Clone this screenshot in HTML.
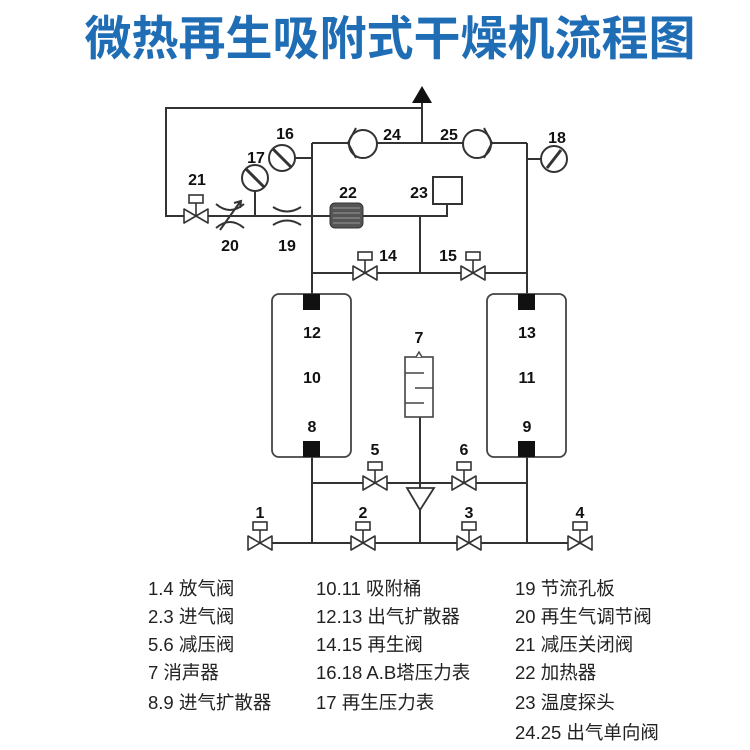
<!DOCTYPE html>
<html><head><meta charset="utf-8"><style>
body{margin:0;background:#fff}
svg{display:block}
.t{font-family:"Liberation Sans","Noto Sans CJK SC",sans-serif}
</style></head><body>
<svg width="750" height="750" viewBox="0 0 750 750" xmlns="http://www.w3.org/2000/svg">
<defs>
<g id="v"><path d="M-12,-7 L12,7 L12,-7 L-12,7 Z" fill="#fff" stroke="#333" stroke-width="1.6" stroke-linejoin="round"/><line x1="0" y1="0" x2="0" y2="-13" stroke="#333" stroke-width="1.6"/><rect x="-7" y="-21" width="14" height="8" fill="#fff" stroke="#333" stroke-width="1.6"/></g>
<g id="g"><circle r="13" fill="#fff" stroke="#333" stroke-width="2"/></g>
</defs>
<text x="390" y="55" text-anchor="middle" class="t" font-size="47" font-weight="bold" fill="#1f6db5">微热再生吸附式干燥机流程图</text>
<g stroke="#333" stroke-width="2" fill="none">
<polyline points="422,100 422,108 166,108 166,216 447,216 447,204"/>
<line x1="422" y1="100" x2="422" y2="143"/>
<line x1="312" y1="143" x2="527" y2="143"/>
<line x1="312" y1="143" x2="312" y2="294"/>
<line x1="527" y1="143" x2="527" y2="294"/>
<line x1="295" y1="158" x2="312" y2="158"/>
<line x1="527" y1="159" x2="541" y2="159"/>
<line x1="255" y1="191" x2="255" y2="216"/>
<line x1="420" y1="216" x2="420" y2="273"/>
<line x1="312" y1="273" x2="527" y2="273"/>
<line x1="312" y1="457" x2="312" y2="543"/>
<line x1="527" y1="457" x2="527" y2="543"/>
<line x1="312" y1="483" x2="527" y2="483"/>
<line x1="420" y1="417" x2="420" y2="488"/>
<line x1="420" y1="510" x2="420" y2="543"/>
<line x1="272" y1="543" x2="568" y2="543"/>
</g>
<polygon points="422,86 412,103 432,103" fill="#111"/>
<g stroke="#333" stroke-width="2" fill="#fff">
<circle cx="363" cy="144" r="14"/><circle cx="477" cy="144" r="14"/>
</g>
<g stroke="#333" stroke-width="2" fill="none">
<path d="M356,128 L348,143 L356,158"/><path d="M484,128 L492,143 L484,158"/>
</g>
<use href="#g" x="282" y="158"/><line x1="273" y1="149" x2="291" y2="167" stroke="#333" stroke-width="3"/>
<use href="#g" x="255" y="178"/><line x1="246" y1="169" x2="264" y2="187" stroke="#333" stroke-width="3"/>
<use href="#g" x="554" y="159"/><line x1="547" y1="168" x2="561" y2="150" stroke="#333" stroke-width="3"/>
<use href="#v" x="196" y="216"/>
<g stroke="#333" stroke-width="2" fill="none">
<path d="M216,204 Q230,216 244,204"/><path d="M216,228 Q230,216 244,228"/>
<line x1="220" y1="230" x2="240" y2="202"/><path d="M234,203 L241,201 L240,208"/>
<path d="M273,207 Q287,216 301,207"/><path d="M273,225 Q287,216 301,225"/>
</g>
<rect x="330" y="203" width="33" height="25" rx="5" fill="#555" stroke="#333"/>
<g stroke="#999" stroke-width="1"><line x1="333" y1="208" x2="360" y2="208"/><line x1="333" y1="213" x2="360" y2="213"/><line x1="333" y1="218" x2="360" y2="218"/><line x1="333" y1="223" x2="360" y2="223"/></g>
<rect x="433" y="177" width="29" height="27" fill="#fff" stroke="#333" stroke-width="2"/>
<use href="#v" x="365" y="273"/><use href="#v" x="473" y="273"/>
<g stroke="#444" stroke-width="1.8" fill="#fff">
<rect x="272" y="294" width="79" height="163" rx="7"/>
<rect x="487" y="294" width="79" height="163" rx="7"/>
</g>
<g fill="#111">
<rect x="303" y="294" width="17" height="16"/><rect x="303" y="441" width="17" height="16"/>
<rect x="518" y="294" width="17" height="16"/><rect x="518" y="441" width="17" height="16"/>
</g>
<rect x="405" y="357" width="28" height="60" fill="#fff" stroke="#444" stroke-width="1.6"/>
<path d="M416,357 L419,352 L422,357" fill="#fff" stroke="#444" stroke-width="1.4"/>
<g stroke="#444" stroke-width="1.6"><line x1="405" y1="373" x2="424" y2="373"/><line x1="415" y1="388" x2="433" y2="388"/><line x1="405" y1="403" x2="424" y2="403"/></g>
<polygon points="407,488 434,488 420,510" fill="#fff" stroke="#333" stroke-width="1.8"/>
<use href="#v" x="375" y="483"/><use href="#v" x="464" y="483"/>
<use href="#v" x="260" y="543"/><use href="#v" x="363" y="543"/><use href="#v" x="469" y="543"/><use href="#v" x="580" y="543"/>
<g class="t" font-size="16" font-weight="bold" fill="#111" text-anchor="middle">
<text x="285" y="139">16</text><text x="256" y="163">17</text><text x="197" y="185">21</text>
<text x="348" y="198">22</text><text x="419" y="198">23</text><text x="392" y="140">24</text><text x="449" y="140">25</text>
<text x="557" y="143">18</text><text x="230" y="251">20</text><text x="287" y="251">19</text>
<text x="388" y="261">14</text><text x="448" y="261">15</text>
<text x="312" y="338">12</text><text x="312" y="383">10</text><text x="312" y="432">8</text>
<text x="527" y="338">13</text><text x="527" y="383">11</text><text x="527" y="432">9</text>
<text x="419" y="343">7</text><text x="375" y="455">5</text><text x="464" y="455">6</text>
<text x="260" y="518">1</text><text x="363" y="518">2</text><text x="469" y="518">3</text><text x="580" y="518">4</text>
</g>
<g class="t" font-size="18.5" fill="#222">
<text x="148" y="595">1.4 放气阀</text><text x="148" y="623">2.3 进气阀</text><text x="148" y="651">5.6 减压阀</text><text x="148" y="679">7 消声器</text><text x="148" y="709">8.9 进气扩散器</text>
<text x="316" y="595">10.11 吸附桶</text><text x="316" y="623">12.13 出气扩散器</text><text x="316" y="651">14.15 再生阀</text><text x="316" y="679">16.18 A.B塔压力表</text><text x="316" y="709">17 再生压力表</text>
<text x="515" y="595">19 节流孔板</text><text x="515" y="623">20 再生气调节阀</text><text x="515" y="651">21 减压关闭阀</text><text x="515" y="679">22 加热器</text><text x="515" y="709">23 温度探头</text><text x="515" y="739">24.25 出气单向阀</text>
</g>
</svg>
</body></html>
